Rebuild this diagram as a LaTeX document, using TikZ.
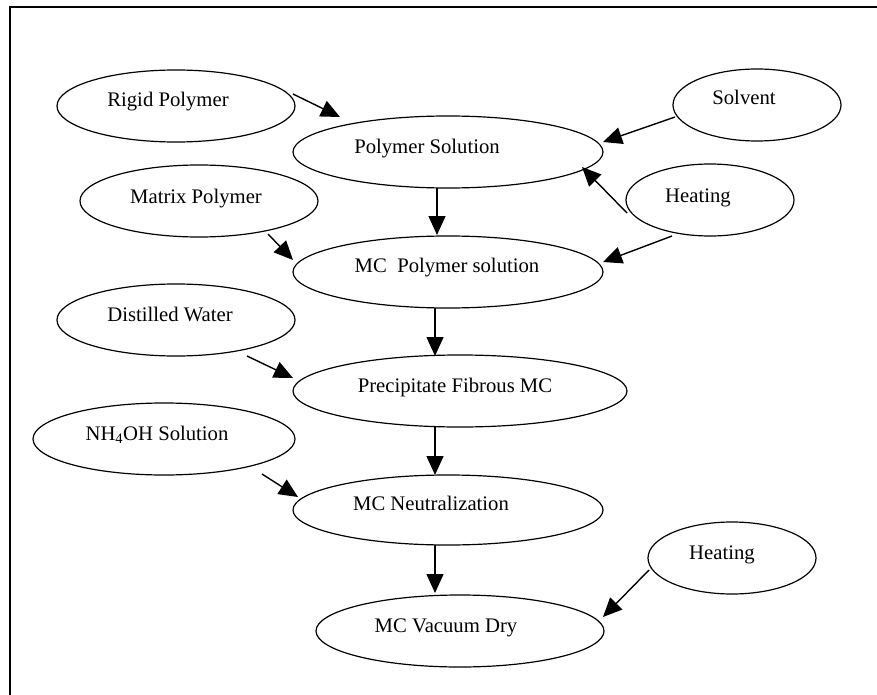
\documentclass[tikz,border=0pt]{standalone}
\usepackage{fontspec}
\setmainfont{Liberation Serif}
\usetikzlibrary{shapes.geometric,arrows.meta}
\tikzset{
  ell/.style={draw, ellipse, line width=1.2pt, inner sep=0pt},
  txt/.style={anchor=base, inner sep=0pt, font=\fontsize{20.7}{24}\selectfont},
  arr/.style={line width=1.4pt, -{Triangle[length=19pt,width=17pt]}},
  frame/.style={line width=1.8pt}
}
\begin{document}
\begin{tikzpicture}[x=1pt,y=-1pt]
\useasboundingbox (0,0) rectangle (877,695);
% frame
\coordinate (ftl) at (10,7);
\coordinate (ftr) at (877,7);
\coordinate (fbl) at (10,695);
\draw[frame] (ftr) -- (ftl) -- (fbl);

% ellipses
\node[ell, minimum width=238pt, minimum height=72pt] (rp) at (176,106) {};
\node[ell, minimum width=310pt, minimum height=72pt] (ps) at (448,152) {};
\node[ell, minimum width=238pt, minimum height=72pt] (mp) at (199,201) {};
\node[ell, minimum width=168pt, minimum height=72pt] (sv) at (757,105) {};
\node[ell, minimum width=168pt, minimum height=72pt] (ht1) at (710,200) {};
\node[ell, minimum width=310pt, minimum height=72pt] (mcps) at (448,272) {};
\node[ell, minimum width=238pt, minimum height=72pt] (dw) at (176,320) {};
\node[ell, minimum width=334pt, minimum height=72pt] (pf) at (460,391) {};
\node[ell, minimum width=262pt, minimum height=72pt] (nh) at (164,439) {};
\node[ell, minimum width=310pt, minimum height=70pt] (mcn) at (448,510) {};
\node[ell, minimum width=288pt, minimum height=72pt] (vd) at (460,631) {};
\node[ell, minimum width=168pt, minimum height=72pt] (ht2) at (732,558) {};

% texts
\node[txt] (trp) at (168,107) {Rigid Polymer};
\node[txt] (tps) at (427,154) {Polymer Solution};
\node[txt] (tmp) at (196,204) {Matrix Polymer};
\node[txt] (tsv) at (744,105) {Solvent};
\node[txt] (tht1) at (698,202) {Heating};
\node[txt] (tmcps) at (447,272) {MC\ \ Polymer solution};
\node[txt] (tdw) at (170,321) {Distilled Water};
\node[txt] (tpf) at (455,392) {Precipitate Fibrous MC};
\node[txt] (tnh) at (157,440) {NH\textsubscript{4}OH Solution};
\node[txt] (tmcn) at (431,510) {MC Neutralization};
\node[txt] (tvd) at (446,632) {MC Vacuum Dry};
\node[txt] (tht2) at (722,559) {Heating};

% connectors
\draw[arr] ([shift={(117,-12)}]rp.center) -- ([shift={(-108,-35)}]ps.center);
\draw[arr] ([shift={(-82,12)}]sv.center) -- ([shift={(155,-10)}]ps.center);
\draw[arr] ([shift={(-83,13)}]ht1.center) -- ([shift={(134,15)}]ps.center);
\draw[arr] ([shift={(-11,36)}]ps.center) -- ([shift={(-11,-37)}]mcps.center);
\draw[arr] ([shift={(69,33)}]mp.center) -- ([shift={(-155,-12)}]mcps.center);
\draw[arr] ([shift={(-38,36)}]ht1.center) -- ([shift={(155,-10)}]mcps.center);
\draw[arr] ([shift={(-13,36)}]mcps.center) -- ([shift={(-25,-35)}]pf.center);
\draw[arr] ([shift={(71,36)}]dw.center) -- ([shift={(-167,-13)}]pf.center);
\draw[arr] ([shift={(-25,36)}]pf.center) -- ([shift={(-13,-35)}]mcn.center);
\draw[arr] ([shift={(98,35)}]nh.center) -- ([shift={(-150,-13)}]mcn.center);
\draw[arr] ([shift={(-13,35)}]mcn.center) -- ([shift={(-25,-38)}]vd.center);
\draw[arr] ([shift={(-83,12)}]ht2.center) -- ([shift={(143,-14)}]vd.center);
\end{tikzpicture}
\end{document}
